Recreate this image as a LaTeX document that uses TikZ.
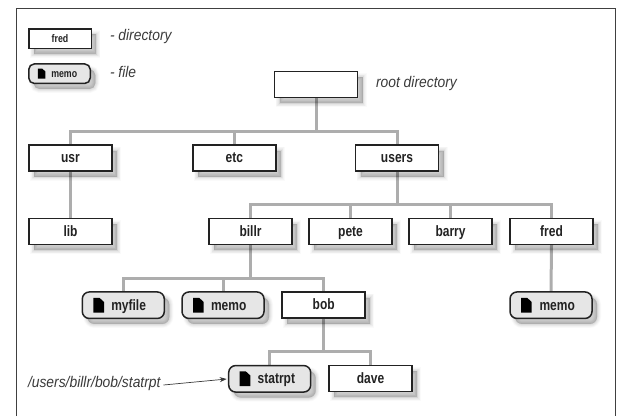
\documentclass[tikz,border=0pt]{standalone}
\usepackage{fontspec}
\setmainfont{Liberation Sans}
\newfontfamily\boxfont[FakeStretch=0.80]{Liberation Sans Bold}
\newfontfamily\noteitalic[FakeStretch=0.90]{Liberation Sans Italic}
\usetikzlibrary{arrows.meta}
\pgfdeclarelayer{links}
\pgfsetlayers{links,main}
\definecolor{linkgray}{HTML}{ADADAD}
\definecolor{edgeink}{HTML}{222222}
\definecolor{filefill}{HTML}{E6E6E6}
\definecolor{noteink}{HTML}{3A3A3A}
\tikzset{
  shadowlayer/.style 2 args={preaction={draw=black,fill=black,draw opacity=#2,fill opacity=#2,line width=#1,transform canvas={shift={(5pt,-5.5pt)}}}},
  softshadow/.style={
    shadowlayer={8pt}{.018},
    shadowlayer={6.5pt}{.022},
    shadowlayer={5pt}{.028},
    shadowlayer={3.5pt}{.032},
    shadowlayer={2pt}{.036},
    shadowlayer={.5pt}{.04},
    preaction={draw=none,fill=black,fill opacity=.04,transform canvas={shift={(5pt,-5.5pt)}}}},
  basebox/.style={softshadow,draw=edgeink,line width=1.5pt,inner sep=0pt,outer sep=0pt,
    text=edgeink,font=\boxfont\fontsize{15}{16}\selectfont,text height=10.4pt,text depth=0.6pt},
  dirbox/.style={basebox,fill=white,rectangle,minimum width=83pt,minimum height=26pt},
  filebox/.style={basebox,fill=filefill,rectangle,rounded corners=7pt,minimum width=82pt,minimum height=26.5pt,
    text width=82pt,align=left},
  smalldir/.style={dirbox,minimum width=62.5pt,minimum height=19.5pt,font=\boxfont\fontsize{11}{12}\selectfont,text height=8pt,text depth=0.5pt},
  smallfile/.style={filebox,minimum width=61.5pt,minimum height=19.5pt,text width=61.5pt,rounded corners=5.5pt,font=\boxfont\fontsize{11}{12}\selectfont,text height=8pt,text depth=0.5pt},
  note/.style={inner sep=0pt,outer sep=0pt,anchor=west,text=noteink,font=\noteitalic\fontsize{15.4}{16}\selectfont},
  link/.style={draw=linkgray,line width=3pt},
  pointer/.style={draw=noteink,line width=.7pt,-{Stealth[length=7pt,width=5pt]},shorten >=2pt},
  frameline/.style={draw=black!75,line width=1.3pt}
}
% dog-eared page icon: #1 node, #2 x-offset from its west side, #3 width, #4 height
\newcommand{\pageicon}[4]{%
  \fill[black] ([xshift=#2pt,yshift=-#4*0.5pt]#1.west) -- ++(#3pt,0pt) -- ++(0pt,#4*0.72pt)
    -- ++(-#3*0.42pt,#4*0.28pt) -- ++(-#3*0.58pt,0pt) -- cycle;}
\begin{document}
\begin{tikzpicture}[x=1pt,y=-1pt]
\useasboundingbox (0,0) rectangle (617,416);
\draw[frameline] (16.5,416) -- (16.5,8.5) -- (615.5,8.5) -- (615.5,416);

\node[smalldir] (legdir) at (60,38.7) {fred};
\node[smallfile] (legfile) at (59.5,73.7) {\hspace*{22.5pt}memo};
\pageicon{legfile}{9}{7.7}{10}
\node[note] (legdirnote) at (110,37) {- directory};
\node[note] (legfilenote) at (110,72) {- file};

\node[dirbox] (root) at (316,84.5) {};
\node[note] (rootnote) at (376,84) {root directory};

\node[dirbox] (usr) at (70.5,158) {usr};
\node[dirbox] (etc) at (234.3,158) {etc};
\node[dirbox] (users) at (397,158) {users};
\node[dirbox] (lib) at (70.5,231.7) {lib};
\node[dirbox] (billr) at (250.5,231.7) {billr};
\node[dirbox] (pete) at (350.5,231.7) {pete};
\node[dirbox] (barry) at (450.5,231.7) {barry};
\node[dirbox] (fred) at (551.5,231.7) {fred};
\node[filebox] (myfile) at (123.3,305.2) {\hspace*{29pt}myfile};
\node[filebox] (memoa) at (223,305.2) {\hspace*{29pt}memo};
\node[dirbox] (bob) at (323.7,305) {bob};
\node[filebox] (memob) at (551,305.2) {\hspace*{29.5pt}memo};
\node[filebox] (statrpt) at (269.7,378.8) {\hspace*{29pt}statrpt};
\node[dirbox] (dave) at (370.5,378.5) {dave};
\pageicon{myfile}{11}{10.7}{14.7}
\pageicon{memoa}{11}{10.7}{14.7}
\pageicon{memob}{11}{10.7}{14.7}
\pageicon{statrpt}{11}{10.7}{14.7}

\node[note] (pathnote) at (28,384) {/users/billr/bob/statrpt};
\draw[pointer] (pathnote.east) ++(3,1) -- (statrpt.west);

\coordinate (rootjoin) at (316,131);
\coordinate (usersjoin) at (397,204.7);
\coordinate (billrjoin) at (250.5,278);
\coordinate (bobjoin) at (323.7,351);
\begin{pgfonlayer}{links}
  \draw[link] (usr.north) |- (rootjoin) -| (users.north);
  \draw[link] (root.south) -- (rootjoin);
  \draw[link] (etc.north) |- (rootjoin);
  \draw[link] (usr.south) -- (lib.north);
  \draw[link] (users.south) -- (usersjoin);
  \draw[link] (billr.north) |- (usersjoin) -| (fred.north);
  \draw[link] (pete.north) |- (usersjoin);
  \draw[link] (barry.north) |- (usersjoin);
  \draw[link] (fred.south) -- (memob.north);
  \draw[link] (billr.south) -- (billrjoin);
  \draw[link] (myfile.north) |- (billrjoin) -| (bob.north);
  \draw[link] (memoa.north) |- (billrjoin);
  \draw[link] (bob.south) -- (bobjoin);
  \draw[link] (statrpt.north) |- (bobjoin) -| (dave.north);
\end{pgfonlayer}
\end{tikzpicture}
\end{document}
